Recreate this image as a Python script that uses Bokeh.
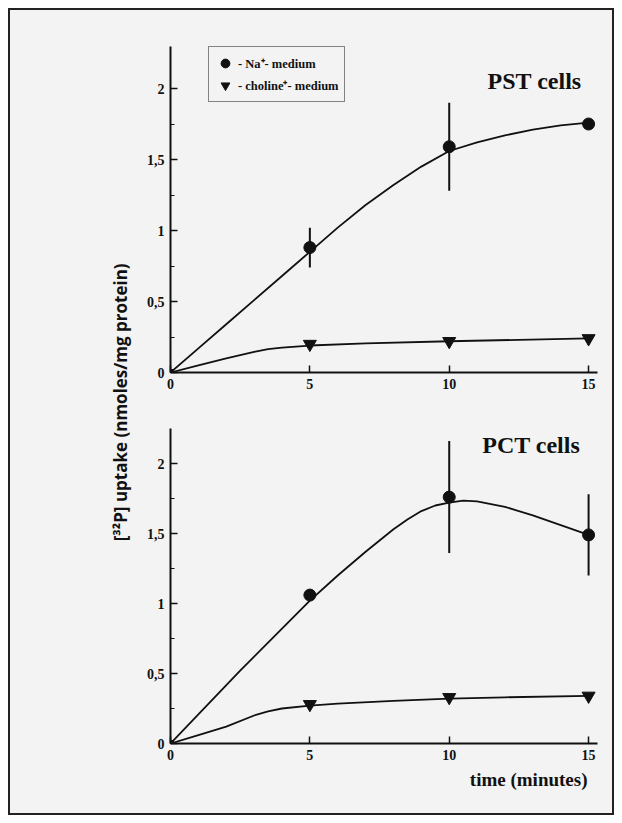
import math
from bokeh.plotting import figure
from bokeh.layouts import row, column
from bokeh.models import Range1d, FixedTicker, Label, Legend, LegendItem, Title, Spacer
from bokeh.embed import file_html
from bokeh.resources import INLINE

# ---------------- data ----------------
time_min = [0, 5, 10, 15]

pst_na = [0, 0.88, 1.59, 1.75]
pst_na_err = [0, 0.14, 0.31, 0.03]
pst_ch = [0, 0.20, 0.22, 0.24]

pct_na = [0, 1.06, 1.76, 1.49]
pct_na_err = [0, 0.03, 0.40, 0.29]
pct_ch = [0, 0.28, 0.33, 0.34]

# fitted curves as drawn in the picture
pst_na_fit_t = [0, 1, 2, 3, 4, 5, 6, 7, 8, 9, 10, 11, 12, 13, 14, 15]
pst_na_fit = [0, 0.17, 0.34, 0.51, 0.68, 0.85, 1.02, 1.18, 1.32, 1.45, 1.56, 1.62, 1.67, 1.71, 1.74, 1.76]
pst_ch_fit_t = [0, 1, 2, 3, 3.5, 4, 5, 7, 10, 12.5, 15]
pst_ch_fit = [0, 0.05, 0.10, 0.145, 0.165, 0.175, 0.19, 0.205, 0.22, 0.23, 0.24]

pct_na_fit_t = [0, 2.5, 5, 6, 7, 7.5, 8, 8.5, 9, 9.5, 10, 10.5, 11, 12, 13, 14, 15]
pct_na_fit = [0, 0.52, 1.02, 1.20, 1.37, 1.45, 1.53, 1.60, 1.66, 1.70, 1.72, 1.735, 1.73, 1.69, 1.63, 1.56, 1.49]
pct_ch_fit_t = [0, 1, 2, 3, 3.5, 4, 5, 6, 8, 10, 12, 15]
pct_ch_fit = [0, 0.06, 0.12, 0.20, 0.23, 0.25, 0.27, 0.285, 0.305, 0.32, 0.33, 0.34]

x_ticks = [0, 5, 10, 15]
y_ticks = [0, 0.5, 1, 1.5, 2]
y_minor = [0.25, 0.75, 1.25, 1.75]
y_tick_labels = ["0", "0,5", "1", "1,5", "2"]

titles = ["PST cells", "PCT cells"]
legend_labels = ["- Na\u207a- medium", "- choline\u207a- medium"]
y_label = "[\u00b3\u00b2P] uptake (nmoles/mg protein)"
x_label = "time (minutes)"

BG = "#f3f3f3"
INK = "#111111"
SERIF = "Liberation Serif"


def panel(height, top, bottom, ymax, na, na_err, ch, na_t, na_f, ch_t, ch_f, title, tx, ty):
    p = figure(width=474, height=height, output_backend="svg", toolbar_location=None,
               x_range=Range1d(0, 15.32), y_range=Range1d(0, ymax),
               min_border_left=32, min_border_right=15,
               min_border_top=top, min_border_bottom=bottom,
               background_fill_color=BG, border_fill_color=BG)
    p.outline_line_color = None
    p.grid.visible = False

    p.xaxis.ticker = FixedTicker(ticks=x_ticks)
    p.yaxis.ticker = FixedTicker(ticks=y_ticks, minor_ticks=y_minor)
    p.yaxis.major_label_overrides = {t: l for t, l in zip(y_ticks, y_tick_labels)}
    for ax in (p.xaxis, p.yaxis):
        ax.axis_line_width = 2
        ax.axis_line_color = INK
        ax.major_tick_line_color = INK
        ax.major_tick_line_width = 1.5
        ax.major_tick_in = 7
        ax.major_tick_out = 0
        ax.minor_tick_line_color = INK
        ax.minor_tick_in = 4
        ax.minor_tick_out = 0
        ax.major_label_text_font = SERIF
        ax.major_label_text_font_style = "bold"
        ax.major_label_text_font_size = "14px"
        ax.major_label_text_color = INK
        ax.major_label_standoff = 6
    p.xaxis.minor_tick_line_color = None

    lo = [v - e for v, e in zip(na, na_err)]
    hi = [v + e for v, e in zip(na, na_err)]
    p.segment(x0=time_min[1:], y0=lo[1:], x1=time_min[1:], y1=hi[1:],
              line_color=INK, line_width=2)
    p.line(na_t, na_f, line_color=INK, line_width=1.8)
    p.line(ch_t, ch_f, line_color=INK, line_width=1.8)
    r_na = p.scatter(time_min[1:], na[1:], marker="circle", size=12,
                     fill_color=INK, line_color=INK)
    r_ch = p.scatter(time_min[1:], ch[1:], marker="inverted_triangle", size=13,
                     fill_color=INK, line_color=INK)
    p.scatter(time_min[:1], na[:1], marker="square", size=6, fill_color=INK, line_color=INK)

    p.add_layout(Label(x=tx, y=ty, text=title, text_font=SERIF, text_font_style="bold",
                       text_font_size="24px", text_color=INK, text_align="right",
                       text_baseline="alphabetic"))
    return p, r_na, r_ch


top, tna, tch = panel(385, 36, 23, 2.296, pst_na, pst_na_err, pst_ch,
                      pst_na_fit_t, pst_na_fit, pst_ch_fit_t, pst_ch_fit,
                      titles[0], 14.75, 2.05)
bot, _, _ = panel(418, 33, 70, 2.25, pct_na, pct_na_err, pct_ch,
                  pct_na_fit_t, pct_na_fit, pct_ch_fit_t, pct_ch_fit,
                  titles[1], 14.7, 2.13)

legend = Legend(items=[LegendItem(label=legend_labels[0], renderers=[tna]),
                       LegendItem(label=legend_labels[1], renderers=[tch])],
                location=(38, 270), orientation="vertical",
                glyph_width=22, glyph_height=22, label_standoff=2,
                label_text_font=SERIF, label_text_font_style="bold",
                label_text_font_size="12.5px", label_text_color=INK,
                label_height=18, spacing=-2, padding=5, margin=0,
                border_line_color=INK, border_line_width=1.5,
                background_fill_color=BG, background_fill_alpha=1.0)
top.add_layout(legend)

bot.add_layout(Title(text=x_label, align="right", offset=10, text_font=SERIF,
                     text_font_style="bold", text_font_size="19px", text_color=INK,
                     standoff=8), "below")

lab = figure(width=128, height=803, output_backend="svg", toolbar_location=None,
             x_range=Range1d(0, 1), y_range=Range1d(0, 1),
             min_border=0, background_fill_color=BG, border_fill_color=BG)
lab.axis.visible = False
lab.grid.visible = False
lab.outline_line_color = None
lab.add_layout(Label(x=110 / 128, y=0.512, text=y_label, angle=math.pi / 2,
                     text_font="Open Sans", text_font_style="bold", text_font_size="17px",
                     text_color=INK, text_align="center", text_baseline="middle"))

framed = row(lab, column(top, bot, spacing=0), spacing=0,
             styles={"border": "2px solid #222", "background-color": BG})
layout = column(Spacer(height=8, width=10), row(Spacer(width=8, height=10), framed, spacing=0),
                spacing=0)

open("out.html", "w").write(file_html(layout, INLINE))
